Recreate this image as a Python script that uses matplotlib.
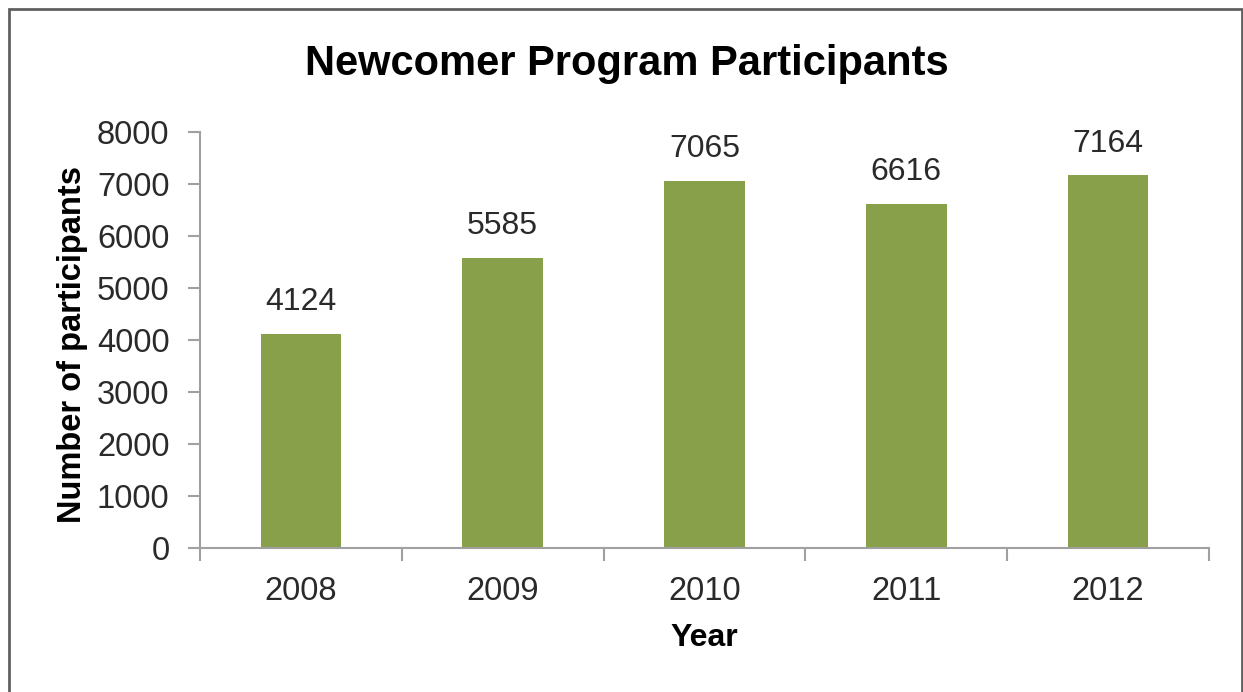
import matplotlib
matplotlib.use("Agg")
import matplotlib.pyplot as plt
from matplotlib.patches import Rectangle

years = ["2008", "2009", "2010", "2011", "2012"]
participants = [4124, 5585, 7065, 6616, 7164]
yticks = [0, 1000, 2000, 3000, 4000, 5000, 6000, 7000, 8000]

bar_color = "#88a04a"
spine_color = "#a0a0a0"
text_color = "#2a2a2a"

plt.rcParams["font.family"] = ["Liberation Sans", "DejaVu Sans"]

fig = plt.figure(figsize=(12.43, 6.92), dpi=100)
ax = fig.add_axes([200 / 1243, 1 - 548 / 692, 1009 / 1243, 416 / 692])

x = list(range(len(years)))
bars = ax.bar(x, participants, width=0.4, color=bar_color)
for xi, v in zip(x, participants):
    ax.annotate(str(v), (xi, v), xytext=(0, 12), textcoords="offset points",
                ha="center", va="bottom", fontsize=23, color=text_color)

ax.set_xlim(-0.5, len(years) - 0.5)
ax.set_ylim(0, 8000)
ax.set_yticks(yticks)
ax.set_yticklabels([str(t) for t in yticks])
ax.set_xticks(x)
ax.set_xticklabels(years)
ax.set_xticks([i - 0.5 for i in range(len(years) + 1)], minor=True)

ax.tick_params(axis="y", labelsize=23.5, labelcolor=text_color, color=spine_color,
               length=9, width=1.5, pad=13)
ax.tick_params(axis="x", which="major", length=0, labelsize=23.5,
               labelcolor=text_color, pad=20)
ax.tick_params(axis="x", which="minor", length=9, width=1.5, color=spine_color)

for side in ["top", "right"]:
    ax.spines[side].set_visible(False)
for side in ["left", "bottom"]:
    ax.spines[side].set_color(spine_color)
    ax.spines[side].set_linewidth(1.5)

ax.set_ylabel("Number of participants", fontsize=23.5, fontweight="bold",
              color="black")
ax.yaxis.set_label_coords(-0.111, 0.49)
ax.set_xlabel("Year", fontsize=23, fontweight="bold", color="black", labelpad=12)
fig.text(627 / 1243, 1 - 64 / 692, "Newcomer Program Participants", ha="center",
         va="center", fontsize=30, fontweight="bold", color="black")

# frame around the whole chart
fig.patches.append(Rectangle((9 / 1243, -0.05), 1233 / 1243, 1.05 - 9 / 692,
                             transform=fig.transFigure, fill=False,
                             edgecolor="#606060", linewidth=2))

fig.savefig("out.png", dpi=100)
